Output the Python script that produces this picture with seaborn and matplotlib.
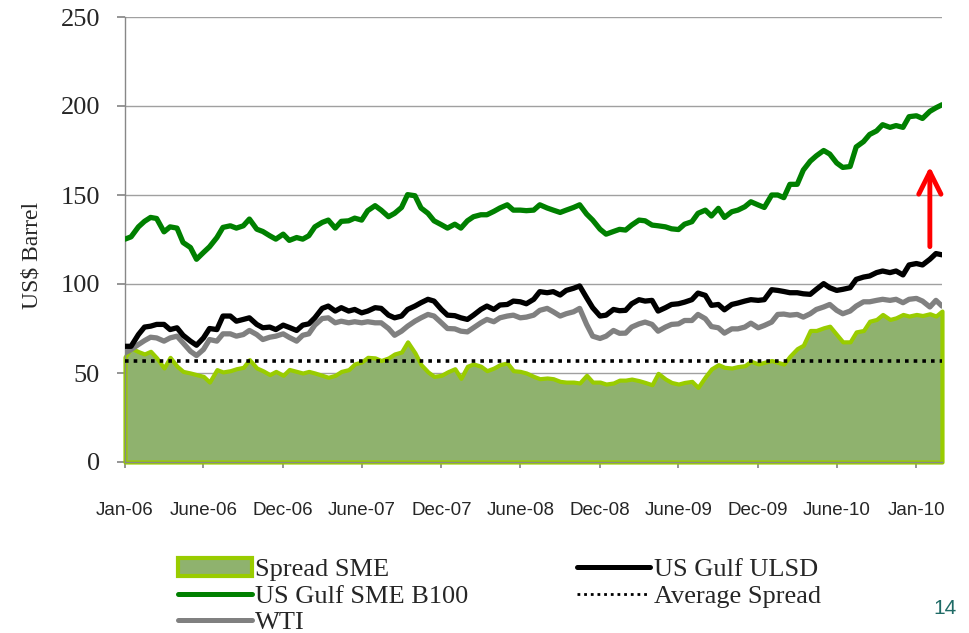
import numpy as np
import pandas as pd
import matplotlib
matplotlib.use("Agg")
import matplotlib.pyplot as plt
import seaborn as sns
from matplotlib.patches import Patch
from matplotlib.lines import Line2D

sns.set_theme(style="white")
plt.rcParams["font.family"] = ["Liberation Serif", "DejaVu Serif"]

# ---------------- data (semi-monthly, Jan 2006 - early 2011) ----------------
dates = pd.date_range("2006-01-01", periods=125, freq="SMS")

sme_b100 = [
    125.2, 126.5, 132.1, 135.2, 137.4, 136.8, 129.3, 132.1, 131.4, 123.3,
    120.5, 113.9, 117.7, 120.9, 126.1, 131.8, 132.7, 131.4, 132.7, 136.5,
    130.8, 129.5, 127.1, 125.2, 128.0, 124.5, 126.1, 125.2, 127.1, 132.1,
    134.6, 135.9, 131.4, 135.2, 135.5, 137.0, 135.9, 141.2, 144.0, 141.5,
    137.8, 139.7, 143.0, 150.2, 149.6, 142.7, 139.7, 135.5, 133.3, 131.4,
    133.6, 131.4, 135.5, 137.8, 138.9, 138.9, 140.8, 142.7, 144.5, 141.5,
    141.5, 141.2, 141.5, 144.5, 142.7, 141.5, 140.2, 141.5, 143.0, 144.5,
    139.3, 135.9, 130.8, 128.0, 129.5, 130.7, 130.3, 133.1, 135.9, 135.5,
    133.1, 132.7, 132.1, 131.0, 130.6, 133.6, 135.0, 139.7, 141.5, 138.2,
    142.5, 137.4, 140.6, 141.5, 143.4, 146.2, 144.4, 143.0, 150.0, 150.0,
    148.5, 156.0, 156.0, 164.0, 169.0, 172.0, 175.0, 173.0, 168.0, 165.5,
    166.0, 177.0, 180.0, 184.0, 186.0, 189.5, 188.0, 189.0, 188.0, 194.0,
    194.5, 193.0, 197.0, 199.0, 200.7,
]

us_gulf_ulsd = [
    65.0, 65.0, 71.6, 75.8, 76.3, 77.3, 77.3, 74.4, 75.4, 71.2,
    67.9, 65.6, 69.7, 75.0, 74.4, 82.0, 82.0, 79.1, 80.1, 81.0,
    77.3, 75.4, 75.8, 74.4, 76.9, 75.6, 73.9, 76.9, 77.6, 81.0,
    86.3, 87.6, 84.8, 86.7, 84.8, 85.7, 83.8, 84.8, 86.7, 86.3,
    82.5, 81.0, 82.0, 85.7, 87.6, 89.5, 91.4, 90.4, 85.7, 82.5,
    82.2, 81.0, 80.1, 82.5, 85.7, 87.6, 85.7, 88.2, 88.5, 90.4,
    90.0, 88.9, 91.4, 95.7, 95.1, 95.7, 93.8, 96.4, 97.6, 98.9,
    92.3, 86.7, 82.0, 82.5, 85.7, 85.0, 85.2, 88.9, 91.2, 90.4,
    90.8, 84.8, 86.7, 88.5, 88.9, 89.8, 91.2, 94.9, 93.6, 88.0,
    88.5, 85.5, 88.5, 89.3, 90.4, 91.2, 90.8, 91.2, 96.8, 96.4,
    95.8, 95.1, 95.1, 94.5, 94.2, 97.0, 100.2, 97.9, 96.4, 97.0,
    97.9, 102.6, 103.9, 104.5, 106.4, 107.3, 106.4, 107.3, 105.1, 110.7,
    111.5, 110.7, 113.9, 117.1, 116.4,
]

wti = [
    61.3, 63.2, 66.0, 68.2, 70.1, 69.7, 67.9, 69.7, 70.7, 66.9,
    62.2, 59.8, 63.2, 68.8, 67.9, 72.0, 72.0, 70.7, 71.6, 73.9,
    71.6, 68.8, 70.1, 70.7, 72.0, 70.0, 67.9, 71.2, 72.0, 76.9,
    80.6, 81.0, 78.2, 79.1, 78.2, 78.8, 78.2, 78.8, 78.2, 78.2,
    75.0, 71.2, 73.5, 76.3, 79.1, 81.0, 82.9, 82.0, 78.2, 75.0,
    74.8, 73.5, 73.1, 75.4, 78.2, 80.1, 78.8, 81.0, 82.0, 82.5,
    81.0, 81.4, 82.5, 85.2, 86.3, 84.4, 82.0, 83.3, 84.4, 86.3,
    77.3, 70.7, 69.4, 70.7, 73.9, 72.3, 72.4, 75.8, 77.6, 78.6,
    77.3, 73.5, 75.8, 77.3, 77.6, 79.5, 79.5, 82.9, 80.5, 76.1,
    75.4, 72.4, 74.8, 74.8, 75.8, 78.0, 75.4, 76.7, 78.6, 82.9,
    83.1, 82.5, 82.9, 81.4, 83.3, 85.7, 87.1, 88.5, 85.2, 83.3,
    84.8, 87.6, 90.0, 90.0, 90.8, 91.4, 90.8, 91.4, 89.5, 91.4,
    91.9, 90.4, 87.1, 90.8, 87.6,
]

spread_sme = [
    59.0, 64.0, 62.0, 60.7, 62.2, 58.5, 52.8, 58.8, 53.8, 50.9,
    50.0, 49.1, 48.1, 44.9, 51.9, 50.6, 51.3, 52.4, 53.2, 57.5,
    52.8, 51.3, 49.1, 50.9, 48.7, 52.0, 50.9, 50.0, 50.9, 50.0,
    48.7, 47.6, 48.7, 50.9, 51.9, 55.1, 56.2, 58.8, 58.5, 57.0,
    58.5, 60.7, 61.8, 67.5, 61.3, 54.7, 50.6, 48.1, 48.7, 50.6,
    52.4, 47.0, 53.8, 55.1, 53.8, 51.3, 52.8, 54.7, 55.6, 51.3,
    50.9, 50.0, 48.1, 46.8, 47.2, 46.8, 45.3, 44.9, 44.9, 44.4,
    48.7, 44.9, 44.9, 43.8, 44.4, 46.0, 46.0, 46.6, 45.7, 44.7,
    43.4, 49.8, 46.6, 44.7, 43.8, 44.7, 45.3, 41.9, 47.9, 52.3,
    54.7, 53.2, 52.8, 53.6, 54.1, 56.6, 55.1, 56.0, 57.0, 56.0,
    55.0, 59.4, 63.7, 65.6, 73.9, 73.9, 75.4, 76.3, 71.6, 67.5,
    67.5, 73.1, 73.9, 79.1, 80.1, 82.9, 80.1, 81.0, 82.9, 82.0,
    82.9, 82.3, 83.3, 82.0, 84.8,
]

average_spread = 56.5

tick_labels = ["Jan-06", "June-06", "Dec-06", "June-07", "Dec-07", "June-08",
               "Dec-08", "June-09", "Dec-09", "June-10", "Jan-10"]

# arrow annotation (from / to, in data units)
arrow_idx = 122
arrow_from, arrow_to = 121, 166

df = pd.DataFrame({
    "date": dates,
    "Spread SME": spread_sme,
    "US Gulf SME B100": sme_b100,
    "WTI": wti,
    "US Gulf ULSD": us_gulf_ulsd,
})

# ---------------- colours ----------------
c_green = "#008000"
c_gray = "#808080"
c_black = "#000000"
c_lime = "#99CC00"
c_fill = "#8FB26E"

fig = plt.figure(figsize=(9.69, 6.33), dpi=100)
ax = fig.add_axes([125 / 969, (633 - 462) / 633, 817 / 969, 445 / 633])

# spread area
ax.fill_between(df["date"], df["Spread SME"], 0, facecolor=c_fill,
                edgecolor=c_lime, linewidth=3.0, zorder=2, clip_on=False)

# average spread
ax.axhline(average_spread, color="black", linestyle=(0, (1, 1.4)),
           linewidth=2.6, zorder=3)

sns.lineplot(data=df, x="date", y="WTI", color=c_gray, linewidth=3.8,
             ax=ax, zorder=4)
sns.lineplot(data=df, x="date", y="US Gulf ULSD", color=c_black,
             linewidth=3.8, ax=ax, zorder=5)
sns.lineplot(data=df, x="date", y="US Gulf SME B100", color=c_green,
             linewidth=3.8, ax=ax, zorder=6)

ax.annotate("", xy=(dates[arrow_idx], arrow_to),
            xytext=(dates[arrow_idx], arrow_from),
            arrowprops=dict(arrowstyle="->, head_length=0.8, head_width=0.4",
                            color="red", lw=3.5, mutation_scale=20,
                            shrinkA=0, shrinkB=0), zorder=7)

# axes
ax.set_ylim(0, 250)
ax.set_yticks(np.arange(0, 251, 50))
ax.set_xlim(dates[0], dates[-1])
ax.set_xticks(dates[::12])
ax.set_xticklabels(tick_labels, fontfamily="Liberation Sans", fontsize=13.5)
ax.yaxis.grid(True, color="#A0A0A0", linewidth=1.0, zorder=0)
ax.xaxis.grid(False)
ax.set_axisbelow(True)

for s in ("top", "right"):
    ax.spines[s].set_visible(False)
for s in ("left", "bottom"):
    ax.spines[s].set_color("#888888")
    ax.spines[s].set_linewidth(1.0)

ax.tick_params(axis="y", length=6, color="#888888", pad=12, labelsize=19,
               left=True, direction="out")
ax.tick_params(axis="x", length=4.5, color="#888888", pad=24, bottom=True,
               direction="out")

ax.set_xlabel("")
ax.set_ylabel("US$ Barrel", fontsize=17)
ax.yaxis.set_label_coords(-0.101, 0.465)

# legend
handles = [
    Patch(facecolor=c_fill, edgecolor=c_lime, linewidth=3.0),
    Line2D([0], [0], color=c_green, linewidth=3.6),
    Line2D([0], [0], color=c_gray, linewidth=3.6),
    Line2D([0], [0], color=c_black, linewidth=3.6),
    Line2D([0], [0], color="black", linewidth=2.0, linestyle=(0, (1, 1.4))),
]
labels = ["Spread SME", "US Gulf SME B100", "WTI", "US Gulf ULSD",
          "Average Spread"]
fig.legend(handles, labels, loc="upper left",
           bbox_to_anchor=(178 / 969, 1 - 558 / 633), ncol=2, frameon=False,
           fontsize=19, handlelength=2.8, handletextpad=0.12,
           labelspacing=0.11, columnspacing=4.1, borderpad=0,
           borderaxespad=0)

fig.text(945 / 969, 1 - 608 / 633, "14", color="#1F6B66", fontsize=15,
         fontfamily="Liberation Sans", ha="center", va="center")

fig.savefig("out.png", dpi=100)
